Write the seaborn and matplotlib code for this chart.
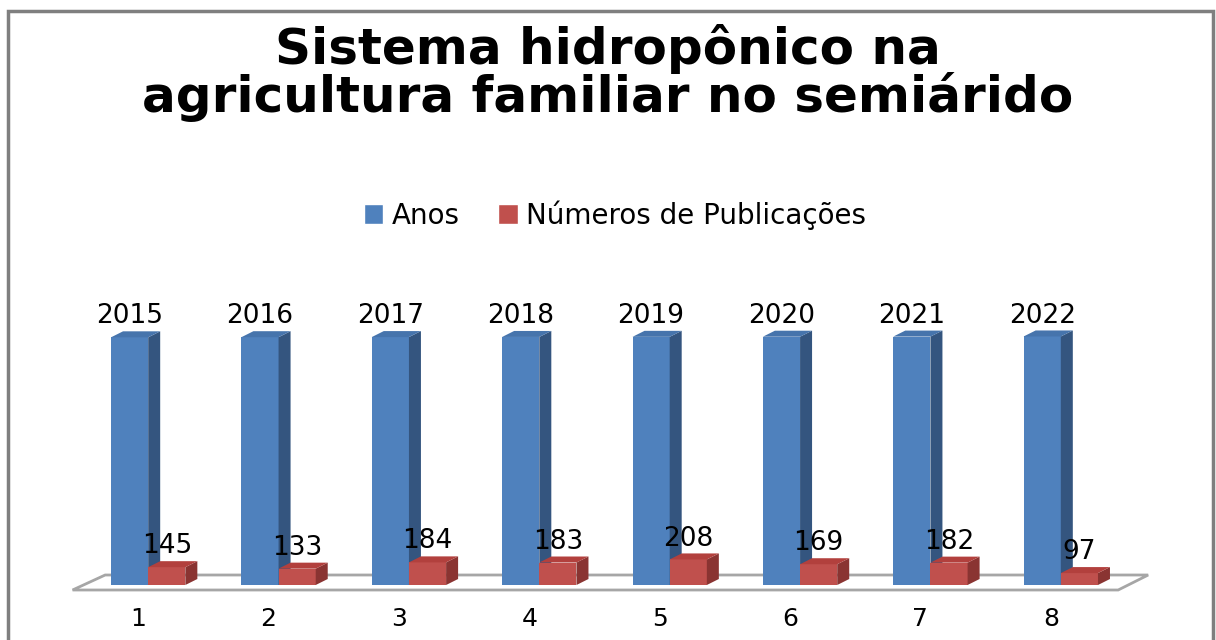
import matplotlib
matplotlib.use("Agg")
import matplotlib.pyplot as plt
import matplotlib.transforms as mtransforms
from matplotlib.patches import Polygon, Rectangle, Patch
import pandas as pd
import seaborn as sns

# dados
grupos = ["1", "2", "3", "4", "5", "6", "7", "8"]
anos = [2015, 2016, 2017, 2018, 2019, 2020, 2021, 2022]
publicacoes = [145, 133, 184, 183, 208, 169, 182, 97]
series = ["Anos", "Números de Publicações"]
titulo = "Sistema hidropônico na\nagricultura familiar no semiárido"

df = pd.DataFrame({
    "grupo": grupos * 2,
    "valor": anos + publicacoes,
    "serie": [series[0]] * len(grupos) + [series[1]] * len(grupos),
})

azul, azul_lado, azul_topo = "#4F81BD", "#34557F", "#4674AC"
verm, verm_lado, verm_topo = "#C0504D", "#8A3432", "#B2403D"

sns.set_style("white")
plt.rcParams["font.family"] = ["DejaVu Sans"]
plt.rcParams["text.color"] = "black"

W, H = 1216, 640
fig = plt.figure(figsize=(W / 100, H / 100), dpi=100)
ax = fig.add_axes([83 / W, 55 / H, 1043 / W, 295 / H])

sns.barplot(data=df, x="grupo", y="valor", hue="serie", palette=[azul, verm],
            width=0.57, gap=0, saturation=1, linewidth=0, legend=False, ax=ax)
ax.set_xlim(-0.5, 7.5)
ax.set_ylim(0, 2400)

# conversao de pixels para unidades de dados
px_x = 1043 / 8.0
px_y = 295 / 2400.0
dx, dy = 12 / px_x, 6 / px_y

# piso em perspectiva
x0, x1 = ax.get_xlim()
piso = Polygon([(x0 - 0.08, -5 / px_y), (x1 - 0.06, -5 / px_y),
                (x1 + 0.17, 10 / px_y), (x0 + 0.17, 10 / px_y)],
               closed=True, facecolor="white", edgecolor="#A6A6A6",
               linewidth=2, zorder=1, clip_on=False)
ax.add_patch(piso)

cores = [(azul_lado, azul_topo, 2), (verm_lado, verm_topo, 4)]
for cont, (c_lado, c_topo, z), vals in zip(ax.containers, cores, [anos, publicacoes]):
    for bar, v in zip(cont, vals):
        bar.set_zorder(z)
        bx, bw, bh = bar.get_x(), bar.get_width(), bar.get_height()
        lado = Polygon([(bx + bw, 0), (bx + bw + dx, dy), (bx + bw + dx, bh + dy), (bx + bw, bh)],
                       closed=True, facecolor=c_lado, edgecolor="none", zorder=z + 0.5, clip_on=False)
        topo = Polygon([(bx, bh), (bx + dx, bh + dy), (bx + bw + dx, bh + dy), (bx + bw, bh)],
                       closed=True, facecolor=c_topo, edgecolor="none", zorder=z + 0.5, clip_on=False)
        ax.add_patch(lado)
        ax.add_patch(topo)
        ax.annotate(str(v), (bx + bw / 2, bh), xytext=(0, 10), textcoords="offset points",
                    ha="center", va="baseline", fontsize=19, color="black", zorder=6)

for s in ax.spines.values():
    s.set_visible(False)
ax.set_yticks([])
ax.set_xlabel("")
ax.set_ylabel("")
ax.tick_params(axis="x", length=0, pad=16, labelsize=18, labelcolor="black")
ax.set_xticks(range(len(grupos)))
ax.set_xticklabels(grupos)
desloc = mtransforms.ScaledTranslation(-10 / 100, 0, fig.dpi_scale_trans)
for lbl in ax.get_xticklabels():
    lbl.set_transform(lbl.get_transform() + desloc)

# titulo
fig.text(0.5, 1 - 112 / H, titulo, ha="center", va="baseline", multialignment="center",
         fontsize=36, fontweight="bold", color="black", linespacing=0.95)

# legenda
handles = [Patch(facecolor=azul), Patch(facecolor=verm)]
fig.legend(handles, series, loc="center", bbox_to_anchor=(615 / W, 1 - 215 / H),
           ncol=2, frameon=False, fontsize=20, handlelength=0.7, handleheight=0.7,
           handletextpad=0.3, columnspacing=1.4, labelcolor="black")

# moldura
fig.patches.append(Rectangle((8 / W, -0.05), 1205 / W, 1.05 - 11 / H, transform=fig.transFigure,
                             facecolor="none", edgecolor="#7F7F7F", linewidth=2.5))

fig.savefig("out.png", dpi=100)
